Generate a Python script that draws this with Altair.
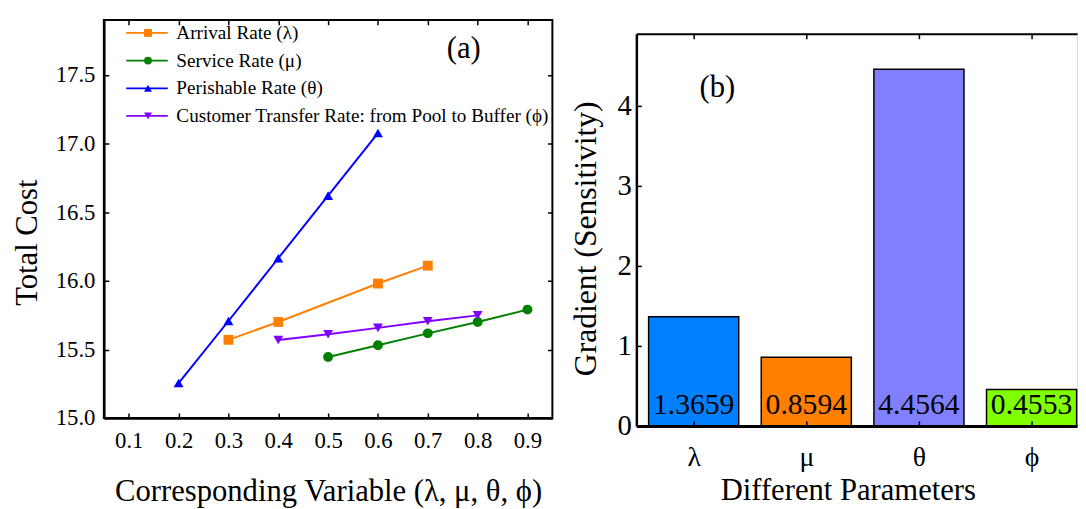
import altair as alt
import pandas as pd

FONT = "Liberation Serif"

# ---------------- Panel (a) data ----------------
series_names = [
    "Arrival Rate (λ)",
    "Service Rate (μ)",
    "Perishable Rate (θ)",
    "Customer Transfer Rate: from Pool to Buffer (ϕ)",
]
series_colors = ["#FF8000", "#008000", "#0000FF", "#8000FF"]
series_shapes = ["square", "circle", "triangle-up", "triangle-down"]

lambda_x = [0.3, 0.4, 0.6, 0.7]
lambda_y = [15.57, 15.70, 15.98, 16.11]
mu_x = [0.5, 0.6, 0.7, 0.8, 0.9]
mu_y = [15.445, 15.53, 15.617, 15.70, 15.79]
theta_x = [0.2, 0.3, 0.4, 0.5, 0.6]
theta_y = [15.255, 15.707, 16.164, 16.62, 17.076]
phi_x = [0.4, 0.5, 0.6, 0.7, 0.8]
phi_y = [15.568, 15.61, 15.657, 15.705, 15.748]

x_major = [0.1, 0.2, 0.3, 0.4, 0.5, 0.6, 0.7, 0.8, 0.9]
x_minor = [0.15, 0.25, 0.35, 0.45, 0.55, 0.65, 0.75, 0.85]
y_major = [15.0, 15.5, 16.0, 16.5, 17.0, 17.5]
y_minor = [15.25, 15.75, 16.25, 16.75, 17.25, 17.75]

# ---------------- Panel (b) data ----------------
params = ["λ", "μ", "θ", "ϕ"]
gradients = [1.3659, 0.8594, 4.4564, 0.4553]
bar_colors = ["#0080FF", "#FF8000", "#8080FF", "#80FF00"]
b_ticks = [0, 1, 2, 3, 4]

rows = []
for name, xs_, ys_ in zip(series_names, [lambda_x, mu_x, theta_x, phi_x],
                          [lambda_y, mu_y, theta_y, phi_y]):
    for xv, yv in zip(xs_, ys_):
        rows.append({"series": name, "series_l": name, "x": xv, "y": yv})
df_a = pd.DataFrame(rows)

W_A, H_A = 454, 403
W_B, H_B = 446, 397
SHIFT_B = 6  # bands sit slightly right in the original (its frame runs past the crop)

x_axis_a = alt.Axis(
    values=x_major + x_minor,
    labelExpr="round(datum.value*100) % 10 == 0 ? format(datum.value, '.1f') : ''",
    labelFont=FONT, labelFontSize=23, labelColor="black", labelPadding=12,
    labelOverlap=False, labelFlush=False,
    ticks=False, domain=True, domainColor="black", domainWidth=2.5,
    grid=True, gridColor="black", gridWidth=1.5, gridOpacity=1,
    gridDash={"condition": {"test": "round(datum.value*100) % 10 != 0",
                            "value": [3, H_A - 6, 3, 3000]},
              "value": [5, H_A - 10, 5, 3000]},
    title="Corresponding Variable (λ, μ, θ, ϕ)",
    titleFont=FONT, titleFontSize=31, titleFontWeight="normal", titleColor="black",
    titlePadding=24,
)
y_axis_a = alt.Axis(
    values=y_major + y_minor,
    labelExpr="round(datum.value*100) % 50 == 0 ? format(datum.value, '.1f') : ''",
    labelFont=FONT, labelFontSize=23, labelColor="black", labelPadding=9,
    labelOverlap=False, labelFlush=False,
    ticks=False, domain=True, domainColor="black", domainWidth=2.5,
    grid=True, gridColor="black", gridWidth=1.5, gridOpacity=1,
    gridDash={"condition": {"test": "round(datum.value*100) % 50 != 0",
                            "value": [3, W_A - 6, 3, 3000]},
              "value": [5, W_A - 10, 5, 3000]},
    title="Total Cost",
    titleFont=FONT, titleFontSize=31, titleFontWeight="normal", titleColor="black",
    titleAngle=270, titleBaseline="bottom", titleAlign="center",
    titleX=-61, titleY=225,
)

xs = alt.Scale(domain=[0.05, 0.95], nice=False)
ys = alt.Scale(domain=[15.0, 17.9], nice=False, zero=False)

line_legend = alt.Legend(
    title=None, orient="none", legendX=34, legendY=3.5, padding=0,
    symbolType="M-4.2,0L4.2,0", symbolSize=100, symbolStrokeWidth=1.8,
    labelFont=FONT, labelFontSize=19.4, labelColor="black", labelOffset=20,
    rowPadding=7, labelLimit=600,
)
point_legend = alt.Legend(
    title=None, orient="none", legendX=35, legendY=3.5, padding=0,
    symbolSize=64, symbolStrokeWidth=0,
    labelFont=FONT, labelFontSize=19.4, labelColor="black", labelOffset=21,
    labelOpacity=0, rowPadding=7, labelLimit=600,
)

lines = alt.Chart(df_a).mark_line(strokeWidth=2).encode(
    x=alt.X("x:Q", scale=xs, axis=x_axis_a),
    y=alt.Y("y:Q", scale=ys, axis=y_axis_a),
    stroke=alt.Stroke("series_l:N", sort=series_names,
                      scale=alt.Scale(range=series_colors), legend=line_legend),
    order="x:Q",
)
points = alt.Chart(df_a).mark_point(filled=True, size=100, opacity=1, strokeWidth=0).encode(
    x="x:Q",
    y="y:Q",
    color=alt.Color("series:N", scale=alt.Scale(domain=series_names, range=series_colors),
                    legend=point_legend),
    shape=alt.Shape("series:N", scale=alt.Scale(domain=series_names, range=series_shapes),
                    legend=point_legend),
)
label_a = alt.Chart(pd.DataFrame({"t": ["(a)"], "x": [0.772], "y": [17.69]})).mark_text(
    font=FONT, fontSize=31, color="black", align="center", baseline="middle"
).encode(x="x:Q", y="y:Q", text="t:N")

panel_a = alt.layer(lines, points, label_a).properties(
    width=W_A, height=H_A,
    view=alt.ViewBackground(stroke="black", strokeWidth=2),
)

# ---------------- Panel (b) ----------------
df_b = pd.DataFrame({"param": params, "value": gradients})

xb = alt.Scale(domain=params, paddingInner=0.2, paddingOuter=0.056)
yb = alt.Scale(domain=[0, 4.9], nice=False, zero=True)

x_axis_b = alt.Axis(
    labelFont=FONT, labelFontSize=28, labelColor="black", labelPadding=18, labelAngle=0,
    ticks=False, domain=True, domainColor="black", domainWidth=3,
    grid=True, gridColor="black", gridWidth=1.5, gridOpacity=1,
    gridDash=[5, H_B - 10, 5, 3000], tickOffset=SHIFT_B,
    title="Different Parameters",
    titleFont=FONT, titleFontSize=31, titleFontWeight="normal", titleColor="black",
    titleAlign="center", titleBaseline="top", titleX=214, titleY=50, zindex=1,
)
y_axis_b = alt.Axis(
    values=b_ticks, format="d",
    labelFont=FONT, labelFontSize=29, labelColor="black", labelPadding=5,
    ticks=False, domain=True, domainColor="black", domainWidth=2.5,
    grid=True, gridColor="black", gridWidth=1.5, gridOpacity=1,
    gridDash=[5, 3000],
    title="Gradient (Sensitivity)",
    titleFont=FONT, titleFontSize=32, titleFontWeight="normal", titleColor="black",
    titleAngle=270, titleBaseline="bottom", titleAlign="center",
    titleX=-34, titleY=207, zindex=1,
)

bars = alt.Chart(df_b).mark_bar(stroke="black", strokeWidth=1.5, opacity=1,
                                xOffset=SHIFT_B, x2Offset=SHIFT_B).encode(
    x=alt.X("param:N", sort=params, scale=xb, axis=x_axis_b),
    y=alt.Y("value:Q", scale=yb, axis=y_axis_b),
    fill=alt.Fill("param:N", scale=alt.Scale(domain=params, range=bar_colors), legend=None),
)
bar_text = alt.Chart(df_b).mark_text(
    font=FONT, fontSize=30, color="black", align="center", baseline="alphabetic",
    dy=-12, dx=SHIFT_B
).encode(
    x=alt.X("param:N", sort=params,
            axis=alt.Axis(orient="top", labels=False, ticks=False, grid=False, domain=True,
                          domainColor="black", domainWidth=2, title=None)),
    y=alt.datum(0),
    text=alt.Text("value:Q", format=".4f"),
)
label_b = alt.Chart(pd.DataFrame({"t": ["(b)"]})).mark_text(
    font=FONT, fontSize=31, color="black", align="center", baseline="middle", dx=24 + SHIFT_B
).encode(x=alt.XDatum("λ", axis=None), y=alt.datum(4.22), text="t:N")

panel_b = alt.layer(bars, bar_text, label_b).resolve_axis(x="independent").properties(
    width=W_B, height=H_B,
)

spacer = alt.Chart(pd.DataFrame({"s": [0]})).mark_point(opacity=0, size=0, strokeWidth=0).properties(
    width=1, height=1)
right = alt.vconcat(spacer, panel_b, spacing=12)

chart = alt.hconcat(panel_a, right, spacing=16).resolve_scale(
    color="independent", fill="independent", shape="independent", stroke="independent"
).properties(
    padding={"left": 3, "top": 8, "right": 0, "bottom": 0}
).configure_view(stroke=None).configure(background="white")

chart.save("out.html", embed_options={"renderer": "svg", "actions": False})
